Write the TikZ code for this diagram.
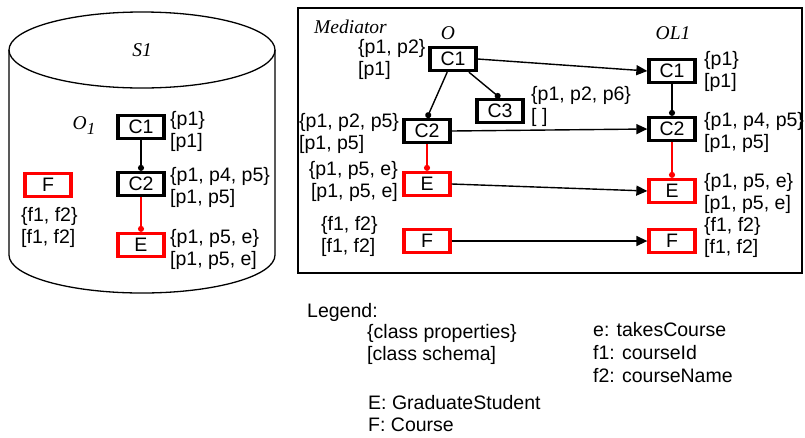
\documentclass[tikz,border=0pt]{standalone}
\usepackage{fontspec}
\setmainfont{Liberation Sans}
\newfontfamily\serifit{Liberation Serif}
\usetikzlibrary{arrows.meta}
\begin{document}
\begin{tikzpicture}[x=1pt,y=-1pt,
  font=\fontsize{19.5}{22}\selectfont,
  cls/.style={draw=black,line width=3.3pt,minimum width=46pt,minimum height=23pt,inner sep=0pt},
  rcls/.style={cls,draw=red},
  lbl/.style={anchor=west,inner sep=0pt,align=left},
  rlbl/.style={anchor=east,inner sep=0pt,align=right},
  ttl/.style={inner sep=0pt,font=\fontsize{19.5}{22}\selectfont\serifit\itshape},
  sub/.style={line width=1.4pt,-{Circle[length=6pt]}},
  rsub/.style={sub,draw=red,-{Circle[length=6pt,fill=red]}},
  map/.style={line width=1.4pt,-{Triangle[length=11pt,width=10pt]}}]
\useasboundingbox (0,0) rectangle (805,437);
% cylinder
\draw[line width=1.3pt] (142,50) ellipse [x radius=133, y radius=38];
\draw[line width=1.3pt] (9,50) -- (9,255) arc[start angle=180,end angle=0,x radius=133,y radius=38] -- (275,50);
\node[ttl] (s1) at (142,50) {S1};
\node[ttl] (o1) at (84,126) {O\raisebox{-5pt}{\fontsize{17}{17}\selectfont 1}};
\node[cls] (a1) at (141,127) {C1};
\node[cls] (a2) at (141,184) {C2};
\node[rcls] (ae) at (141,245) {E};
\node[rcls] (af) at (48,185) {F};
\node[lbl] (la1) at (170,131) {\{p1\}\\{}[p1]};
\node[lbl] (la2) at (170,187) {\{p1, p4, p5\}\\{}[p1, p5]};
\node[lbl] (lae) at (170,249) {\{p1, p5, e\}\\{}[p1, p5, e]};
\node[lbl] (laf) at (21,227) {\{f1, f2\}\\{}[f1, f2]};
\draw[sub] (a1) -- (a2.north);
\draw[rsub] (a2) -- (ae.north);
% mediator
\draw[line width=1.3pt] (298,8) rectangle (802,273);
\node[ttl,anchor=west] (med) at (314,27) {Mediator};
\node[ttl] (o) at (448,33) {O};
\node[ttl] (ol) at (673,33) {OL1};
\node[cls] (b1) at (453,59) {C1};
\node[cls] (b2) at (427,131) {C2};
\node[cls] (b3) at (500,111) {C3};
\node[rcls] (be) at (427,184) {E};
\node[rcls] (bf) at (427,241) {F};
\node[cls] (c1) at (672,71) {C1};
\node[cls] (c2) at (672,129) {C2};
\node[rcls] (ce) at (672,191) {E};
\node[rcls] (cf) at (672,241) {F};
\node[lbl] (lb1) at (358,59) {\{p1, p2\}\\{}[p1]};
\node[lbl] (lb3) at (531,106) {\{p1, p2, p6\}\\{}[ ]};
\node[lbl] (lb2) at (299,133) {\{p1, p2, p5\}\\{}[p1, p5]};
\node[rlbl] (lbe) at (398,181) {\{p1, p5, e\}\\{}[p1, p5, e]};
\node[lbl] (lbf) at (321,236) {\{f1, f2\}\\{}[f1, f2]};
\node[lbl] (lc1) at (704,71) {\{p1\}\\{}[p1]};
\node[lbl] (lc2) at (704,132) {\{p1, p4, p5\}\\{}[p1, p5]};
\node[lbl] (lce) at (704,193) {\{p1, p5, e\}\\{}[p1, p5, e]};
\node[lbl] (lcf) at (704,237) {\{f1, f2\}\\{}[f1, f2]};
\draw[sub] (b1) -- (b2.north);
\draw[sub] (b1) -- (b3.north);
\draw[sub] (c1) -- (c2.north);
\draw[rsub] (b2) -- (be.north);
\draw[rsub] (c2) -- (ce.north);
\draw[map] (b1.east) -- (c1.west);
\draw[map] (b2.east) -- (c2.west);
\draw[map] (be.east) -- (ce.west);
\draw[map] (bf.east) -- (cf.west);
% legend
\node[lbl] (lg) at (307,312) {Legend:};
\node[lbl] (lg1) at (367,344) {\{class properties\}\\{}[class schema]};
\node[lbl] (lg2) at (368,414) {E: GraduateStudent\\F: Course};
\node[lbl,align=left] (lg3) at (593,353) {e: takesCourse\\[1pt]f1: courseId\\[1pt]f2: courseName};
\end{tikzpicture}
\end{document}
